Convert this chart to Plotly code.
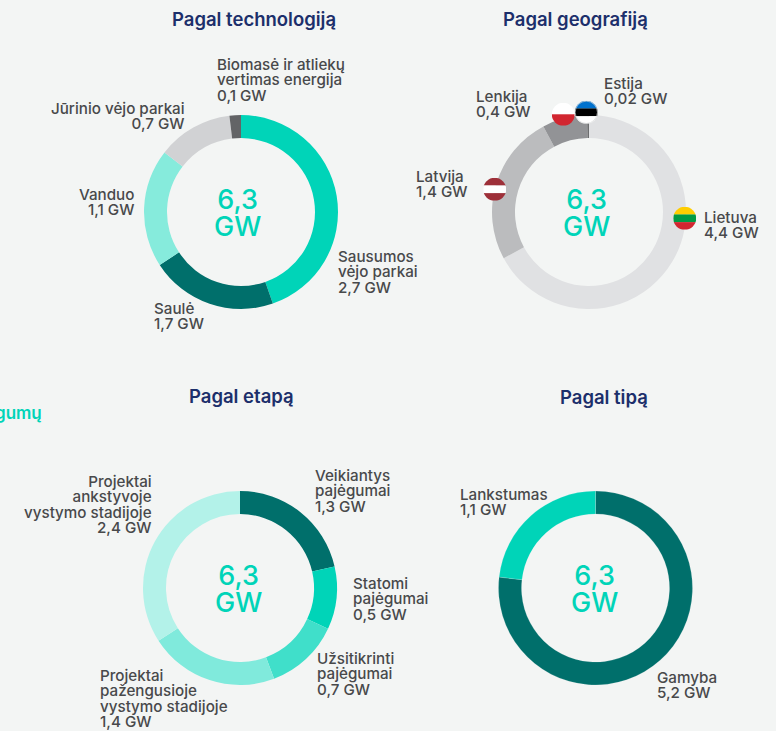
import base64
import plotly.graph_objects as go

W, H = 776, 731
FONT = "Inter"
BG = "#f3f5f4"
TEAL = "#00d4b8"
NAVY = "#1c2f6b"
INK = "#48494b"

# ---- data -------------------------------------------------------------
tech_names = ["Sausumos vėjo parkai", "Saulė", "Vanduo", "Jūrinio vėjo parkai", "Biomasė ir atliekų vertimas energija"]
tech_values = [2.81, 1.33, 1.24, 0.79, 0.12]
tech_colors = ["#00d4b8", "#006f6b", "#86ebdc", "#d1d2d4", "#636466"]

geo_names = ["Lietuva", "Latvija", "Lenkija", "Estija"]
geo_values = [4.22, 1.58, 0.47, 0.02]
geo_colors = ["#e0e1e3", "#bbbcbe", "#929396", "#6d6e70"]

stage_names = ["Veikiantys pajėgumai", "Statomi pajėgumai", "Užsitikrinti pajėgumai",
               "Projektai pažengusioje vystymo stadijoje", "Projektai ankstyvoje vystymo stadijoje"]
stage_values = [1.35, 0.66, 0.78, 1.36, 2.15]
stage_colors = ["#006f6b", "#00d4b8", "#40dfca", "#80eadc", "#b3f2e9"]

type_names = ["Gamyba", "Gamyba", "Gamyba", "Lankstumas"]
type_values = [3.26, 0.99, 0.58, 1.46]
type_colors = ["#006f6b", "#006f6b", "#006f6b", "#00d4b8"]

total_lines = ["6,3", "GW"]

titles = ["Pagal technologiją", "Pagal geografiją", "Pagal etapą", "Pagal tipą"]

tech_labels = [
    ["Biomasė ir atliekų", "vertimas energija", "0,1 GW"],
    ["Jūrinio vėjo parkai", "0,7 GW"],
    ["Vanduo", "1,1 GW"],
    ["Sausumos", "vėjo parkai", "2,7 GW"],
    ["Saulė", "1,7 GW"],
]
geo_labels = [["Estija", "0,02 GW"], ["Lenkija", "0,4 GW"], ["Latvija", "1,4 GW"], ["Lietuva", "4,4 GW"]]
stage_labels = [
    ["Veikiantys", "pajėgumai", "1,3 GW"],
    ["Statomi", "pajėgumai", "0,5 GW"],
    ["Užsitikrinti", "pajėgumai", "0,7 GW"],
    ["Projektai", "pažengusioje", "vystymo stadijoje", "1,4 GW"],
    ["Projektai", "ankstyvoje", "vystymo stadijoje", "2,4 GW"],
]
type_labels = [["Lankstumas", "1,1 GW"], ["Gamyba", "5,2 GW"]]

# ---- layout helpers (pixels from the top-left of the page) ------------
fig = go.Figure()
R = 97
HOLE = 74 / 97


def donut(names, values, colors, cx, cy, seam=None):
    line = dict(width=0)
    if seam:
        line = dict(width=0.5, color=seam)
    fig.add_trace(go.Pie(
        labels=names, values=values, hole=HOLE, sort=False, direction="clockwise",
        rotation=0, textinfo="none", showlegend=False, hoverinfo="label+value",
        marker=dict(colors=colors, line=line),
        domain=dict(x=[(cx - R) / W, (cx + R) / W], y=[1 - (cy + R) / H, 1 - (cy - R) / H]),
    ))


annotations = []


def text(lines, x, y, anchor="left", size=15.2, color=INK, weight=500):
    """y is the vertical centre of the first line."""
    top = y - size * 0.66 - (1.2 if size < 17 else 1)
    shift = {"left": -2.5, "right": 2, "center": 0}[anchor]
    annotations.append(dict(
        text="<br>".join(lines), x=(x + shift) / W, y=1 - top / H, xref="paper", yref="paper",
        showarrow=False, xanchor=anchor, yanchor="top", align=anchor,
        font=dict(family=FONT, size=size, color=color, weight=weight),
    ))


donut(tech_names, tech_values, tech_colors, 241, 212)
donut(geo_names, geo_values, geo_colors, 589, 212)
donut(stage_names, stage_values, stage_colors, 240, 588)
donut(type_names, type_values, type_colors, 595.5, 588, seam="rgba(243,245,244,0.35)")

for t, x, y in zip(titles, [254, 575, 241.7, 604], [19, 19, 396, 397]):
    text([t], x, y, "center", size=18.5, color=NAVY, weight=600)
text(["gumų"], 42, 413, "right", size=17, color=TEAL, weight=600)

for (x, y1) in [(237.5, 200), (586.5, 200), (238, 575.5), (594, 575.5)]:
    text(total_lines, x, y1, "center", size=27, color=TEAL, weight=500)

text(tech_labels[0], 217, 64)
text(tech_labels[1], 185, 108, "right")
text(tech_labels[2], 134, 194.5, "right")
text(tech_labels[3], 338, 256)
text(tech_labels[4], 154, 308.5)

text(geo_labels[0], 604.7, 83)
text(geo_labels[1], 476, 96.7)
text(geo_labels[2], 416.7, 176)
text(geo_labels[3], 704, 217)

text(stage_labels[0], 315.7, 475)
text(stage_labels[1], 353.3, 583.5)
text(stage_labels[2], 317.7, 658)
text(stage_labels[3], 100.7, 675.7)
text(stage_labels[4], 152, 481.5, "right")

text(type_labels[0], 460, 494)
text(type_labels[1], 657.3, 677.7)


# ---- flags -------------------------------------------------------------
def flag(stripes, cx, cy, r=11.5, ring=None):
    n = len(stripes)
    rects = "".join(
        f'<rect x="0" y="{i * 100 / n:.3f}" width="100" height="{100 / n + 0.5:.3f}" fill="{c}"/>'
        for i, c in enumerate(stripes)
    )
    edge = f'<circle cx="50" cy="50" r="48.5" fill="none" stroke="{ring}" stroke-width="3"/>' if ring else ""
    svg = (
        '<svg xmlns="http://www.w3.org/2000/svg" width="100" height="100" viewBox="0 0 100 100">'
        '<defs><clipPath id="c"><circle cx="50" cy="50" r="50"/></clipPath></defs>'
        f'<g clip-path="url(#c)">{rects}</g>{edge}</svg>'
    )
    return dict(
        source="data:image/svg+xml;base64," + base64.b64encode(svg.encode()).decode(),
        xref="paper", yref="paper", x=(cx - r) / W, y=1 - (cy - r) / H,
        sizex=2 * r / W, sizey=2 * r / H, xanchor="left", yanchor="top", layer="above",
    )


images = [
    flag(["#ffffff", "#d22630"], 563.3, 114.3),
    flag(["#0072ce", "#000000", "#ffffff"], 586.3, 112.3, ring="#d9dadb"),
    flag(["#9e3039", "#ffffff", "#9e3039"], 494.7, 189.3),
    flag(["#ffcd00", "#009a44", "#d22630"], 684.7, 218.3),
]

fig.update_layout(
    width=W, height=H, autosize=False, margin=dict(l=0, r=0, t=0, b=0),
    paper_bgcolor=BG, plot_bgcolor=BG, annotations=annotations, images=images,
)

# Page reset, and the tighter line pitch of the reference's multi-line labels.
POST = f"""
document.body.style.margin='0';
document.body.style.background='{BG}';
document.documentElement.style.overflow='hidden';
document.querySelectorAll('.annotation-text').forEach(function(t) {{
  var big = parseFloat(t.style.fontSize) > 20;
  var pitch = big ? 26.5 : 15.4;
  t.querySelectorAll('tspan.line').forEach(function(s) {{
    var d = parseFloat(s.getAttribute('dy')) || 0;
    if (d > 0) s.setAttribute('dy', (d / 1.3 * pitch) + 'px');
  }});
}});
"""
fig.write_html("out.html", config={"displayModeBar": False}, post_script=POST)
